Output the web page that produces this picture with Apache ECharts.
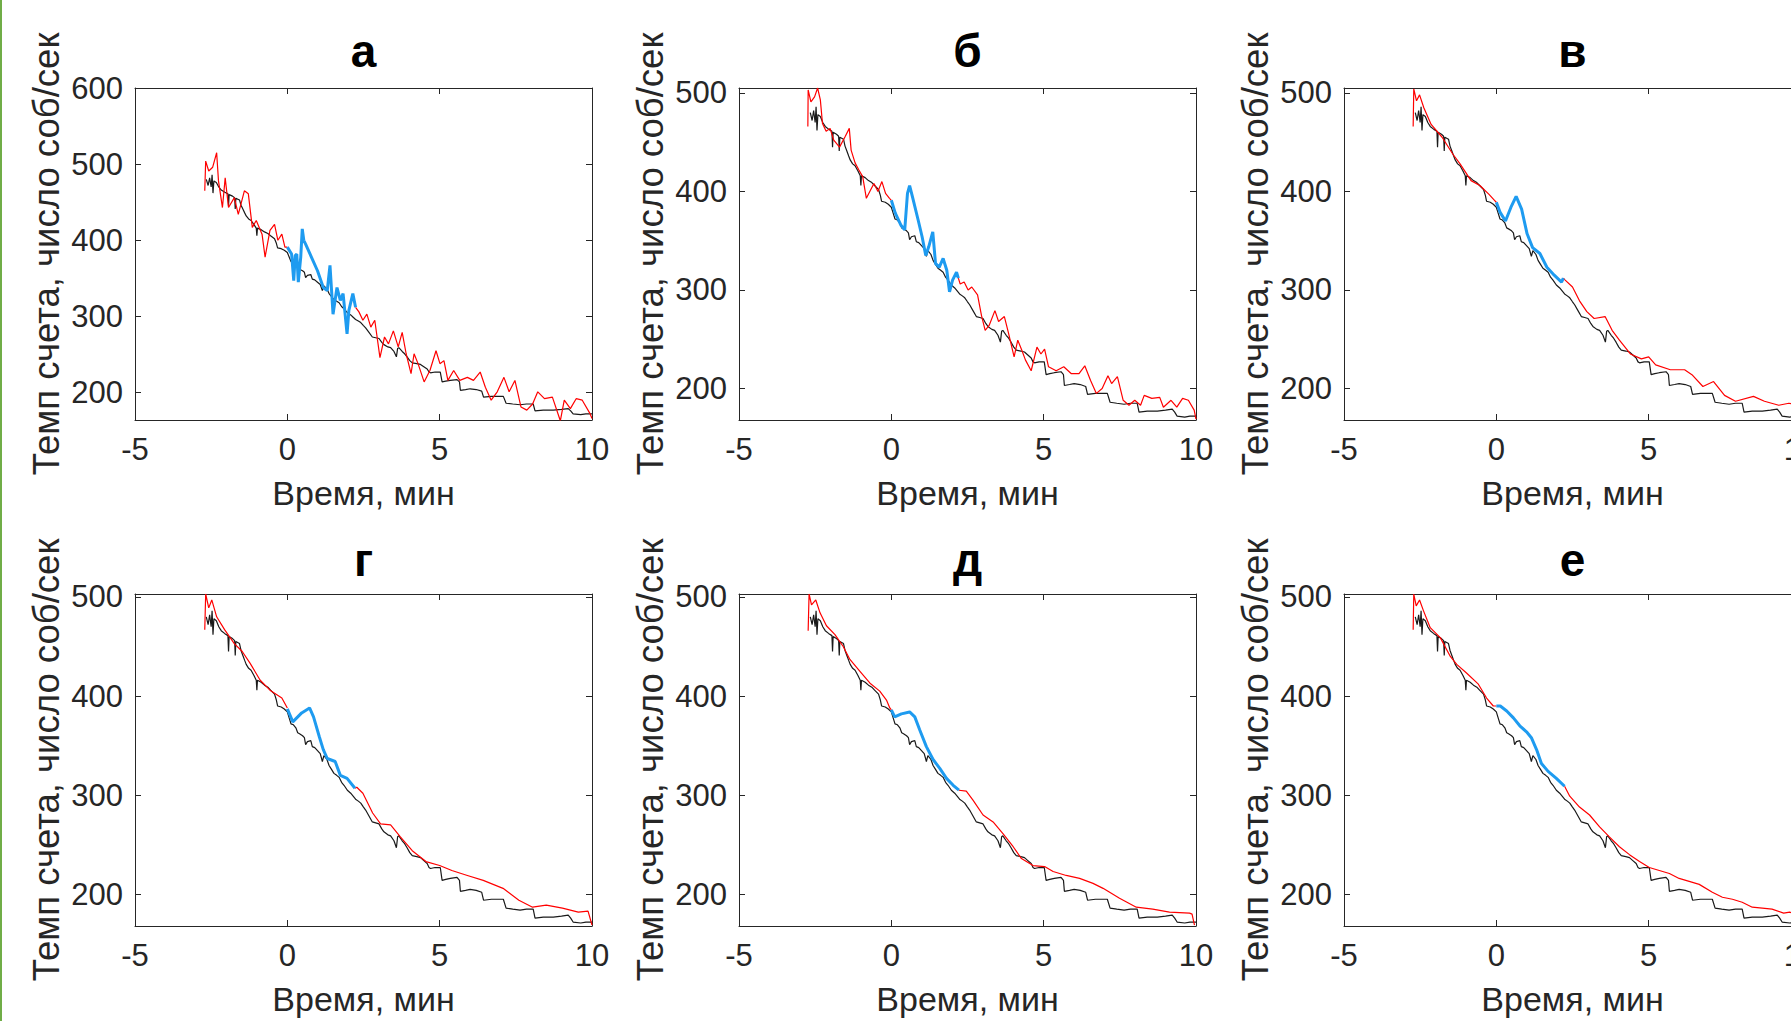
<!DOCTYPE html>
<html>
<head>
<meta charset="utf-8">
<script src="https://cdn.jsdelivr.net/npm/echarts@6/dist/echarts.min.js"></script>
<style>
  html, body { margin: 0; padding: 0; background: #fff; overflow: hidden; }
  #main { width: 1840px; height: 1021px; }
</style>
</head>
<body>
<div id="main"></div>
<script>
// panel titles and ticks
var titles = ['а', 'б', 'в', 'г', 'д', 'е'];
var xTicks = [-5, 0, 5, 10];
var yTicksA = [200, 300, 400, 500, 600];
var yTicks = [200, 300, 400, 500];
var yRanges = [[164, 600], [168, 505], [168, 505], [168, 503], [168, 503], [168, 503]];

// black curve (same in every panel), [time, rate]
var black = [[-2.66,480],[-2.6,472],[-2.55,482],[-2.5,470],[-2.47,486],[-2.44,462],[-2.41,478],[-2.33,476],[-2.25,470],[-2.17,466],[-2.05,463],[-1.95,461],[-1.93,445],[-1.91,460],[-1.8,458],[-1.73,456],[-1.71,441],[-1.69,455],[-1.57,453],[-1.52,446],[-1.46,441],[-1.4,436],[-1.35,432],[-1.27,428],[-1.19,426],[-1.1,421],[-1.02,416],[-1.0,406],[-0.98,416],[-0.86,414],[-0.75,411],[-0.64,409],[-0.55,406],[-0.42,402],[-0.36,396],[-0.32,390],[-0.2,389],[-0.1,387],[0,384],[0.06,378],[0.12,372],[0.2,371],[0.28,368],[0.34,363],[0.4,362],[0.5,360],[0.56,358],[0.6,351],[0.66,354],[0.77,355],[0.82,349],[0.9,348],[0.99,345],[1.08,342],[1.15,334],[1.2,340],[1.3,336],[1.37,330],[1.45,326],[1.53,322],[1.62,320],[1.7,318],[1.78,313],[1.86,310],[1.97,305],[2.08,302],[2.16,299],[2.24,296],[2.33,294],[2.41,292],[2.5,288],[2.57,285],[2.68,279],[2.79,273],[2.9,272],[3.01,271],[3.1,266],[3.17,263],[3.3,260],[3.39,259],[3.5,254],[3.58,247],[3.62,258],[3.66,259],[3.77,254],[3.85,251],[3.93,247],[4.02,242],[4.1,239],[4.25,238],[4.37,237],[4.48,234],[4.59,231],[4.65,227],[4.7,226],[4.85,227],[5.02,227],[5.08,214],[5.2,215],[5.35,216],[5.57,217],[5.65,214],[5.68,203],[5.85,204],[6.0,205],[6.2,204],[6.38,202],[6.44,194],[6.7,195],[7.09,195],[7.18,186],[7.4,185],[7.64,184],[7.85,185],[8.07,185],[8.13,176],[8.4,177],[8.73,177],[9.0,178],[9.22,179],[9.3,176],[9.38,172],[9.63,171],[9.8,172],[10,172]];

// panel а
var redA1 = [[-2.71,465],[-2.68,504],[-2.58,491],[-2.45,496],[-2.32,515],[-2.26,478],[-2.13,443],[-2.04,482],[-1.93,443],[-1.74,456],[-1.61,434],[-1.41,465],[-1.28,461],[-1.15,417],[-1.02,426],[-0.83,408],[-0.73,378],[-0.57,413],[-0.42,421],[-0.31,400],[-0.18,408],[-0.08,391],[0,391]];
var blueA = [[0,391],[0.14,382],[0.21,347],[0.26,380],[0.31,382],[0.36,345],[0.44,378],[0.49,415],[0.54,400],[0.6,395],[0.79,378],[0.99,360],[1.18,338],[1.31,334],[1.4,367],[1.5,303],[1.63,338],[1.74,321],[1.83,330],[1.96,277],[2.02,308],[2.15,330],[2.24,312]];
var redA2 = [[2.24,312],[2.35,306],[2.48,295],[2.61,303],[2.74,286],[2.87,295],[3.04,246],[3.19,273],[3.32,264],[3.48,281],[3.64,260],[3.77,279],[3.9,251],[4.06,225],[4.16,251],[4.29,238],[4.49,214],[4.68,229],[4.88,255],[5.01,238],[5.14,242],[5.27,216],[5.46,229],[5.66,216],[5.91,220],[6.11,216],[6.33,227],[6.5,207],[6.69,190],[6.89,201],[7.11,220],[7.28,201],[7.47,216],[7.67,181],[7.86,177],[8.05,185],[8.22,201],[8.44,192],[8.7,194],[8.96,163],[9.09,190],[9.29,179],[9.48,192],[9.68,190],[9.94,172],[10,166]];

// panel б
var redB1 = [[-2.74,466],[-2.73,503],[-2.64,491],[-2.52,496],[-2.42,505],[-2.33,493],[-2.26,469],[-2.14,461],[-2.01,464],[-1.89,452],[-1.7,445],[-1.51,456],[-1.38,464],[-1.32,442],[-1.19,429],[-1.07,422],[-0.94,415],[-0.82,393],[-0.69,401],[-0.57,408],[-0.44,400],[-0.31,410],[-0.19,398],[-0.06,393],[0,391]];
var blueB = [[0,391],[0.13,378],[0.31,366],[0.44,361],[0.53,398],[0.6,406],[0.69,395],[0.88,371],[1.01,354],[1.13,335],[1.23,344],[1.36,359],[1.45,327],[1.57,323],[1.7,332],[1.82,320],[1.91,298],[2.01,310],[2.14,318],[2.2,312]];
var redB2 = [[2.2,312],[2.26,306],[2.39,308],[2.52,300],[2.64,303],[2.83,295],[2.96,274],[3.08,259],[3.21,264],[3.4,279],[3.52,268],[3.71,273],[3.84,257],[4.03,232],[4.15,249],[4.28,239],[4.4,229],[4.59,218],[4.78,242],[4.91,235],[5.03,240],[5.16,222],[5.41,218],[5.66,222],[5.91,215],[6.16,215],[6.35,223],[6.54,208],[6.73,195],[6.92,200],[7.11,213],[7.23,205],[7.42,212],[7.61,188],[7.8,183],[7.99,188],[8.18,183],[8.3,193],[8.55,190],[8.81,191],[8.93,181],[9.18,188],[9.37,181],[9.56,190],[9.75,188],[9.94,178],[10,169]];

// panel в
var redC1 = [[-2.73,466],[-2.71,504],[-2.62,492],[-2.52,498],[-2.38,485],[-2.14,468],[-1.78,455],[-1.43,438],[-1.19,428],[-0.83,411],[-0.54,406],[-0.24,397],[-0.06,391],[0,389]];
var blueC = [[0,389],[0.12,379],[0.3,370],[0.48,384],[0.65,395],[0.83,382],[1.01,357],[1.19,343],[1.43,337],[1.66,323],[1.9,315],[2.14,308],[2.2,312]];
var redC2 = [[2.2,312],[2.26,310],[2.5,303],[2.73,289],[2.97,278],[3.21,271],[3.57,273],[3.8,259],[4.04,249],[4.4,235],[4.76,230],[5.0,232],[5.23,224],[5.71,219],[6.18,219],[6.42,214],[6.78,202],[7.13,207],[7.49,193],[7.85,187],[8.44,192],[8.8,187],[9.27,183],[9.6,185],[10,183]];

// panel г
var redD1 = [[-2.71,467],[-2.68,503],[-2.58,489],[-2.48,497],[-2.32,480],[-2.06,467],[-1.74,453],[-1.48,445],[-1.22,433],[-0.89,416],[-0.57,406],[-0.18,398],[0,388]];
var blueD = [[0,387],[0.18,374],[0.47,383],[0.73,388],[0.86,379],[1.05,359],[1.18,346],[1.31,337],[1.57,334],[1.74,320],[1.96,317],[2.22,307]];
var redD2 = [[2.22,307],[2.28,308],[2.48,302],[2.8,282],[3.06,271],[3.39,270],[3.71,258],[4.1,244],[4.55,233],[5.0,229],[5.4,224],[5.91,219],[6.43,214],[7.08,206],[7.6,194],[8.05,187],[8.5,189],[9.03,186],[9.55,182],[9.87,183],[10,169]];

// panel д
var redE1 = [[-2.73,466],[-2.7,503],[-2.62,492],[-2.48,497],[-2.34,484],[-2.13,471],[-1.85,462],[-1.58,450],[-1.36,437],[-1.03,425],[-0.7,413],[-0.38,405],[-0.16,396],[-0.05,388],[0,386]];
var blueE = [[0,386],[0.11,379],[0.33,382],[0.6,384],[0.77,379],[0.93,366],[1.15,349],[1.37,336],[1.59,327],[1.81,317],[2.03,310],[2.22,305]];
var redE2 = [[2.22,305],[2.46,304],[2.68,295],[3.01,280],[3.34,273],[3.67,261],[4.0,248],[4.27,236],[4.65,229],[5.03,228],[5.31,223],[5.74,219],[6.18,216],[6.62,211],[6.95,206],[7.49,196],[8.04,187],[8.58,185],[9.13,182],[9.79,181],[9.87,180],[9.95,169]];

// panel е
var redF1 = [[-2.73,467],[-2.71,503],[-2.63,491],[-2.52,497],[-2.39,486],[-2.17,469],[-1.84,459],[-1.51,440],[-1.3,432],[-0.97,423],[-0.59,412],[-0.32,398],[-0.1,390],[0,390]];
var blueF = [[0,390],[0.13,390],[0.34,385],[0.56,378],[0.77,370],[0.99,364],[1.15,358],[1.32,346],[1.48,332],[1.7,324],[1.97,317],[2.24,309]];
var redF2 = [[2.24,309],[2.41,299],[2.73,288],[3.06,280],[3.39,268],[3.71,258],[4.04,248],[4.37,240],[4.7,233],[5.02,227],[5.35,224],[5.68,221],[6.0,216],[6.33,213],[6.66,210],[7.09,202],[7.42,197],[7.75,195],[8.07,192],[8.4,187],[8.73,186],[9.05,185],[9.43,181],[9.63,182],[10,178]];

var panels = [
  [redA1, blueA, redA2], [redB1, blueB, redB2], [redC1, blueC, redC2],
  [redD1, blueD, redD2], [redE1, blueE, redE2], [redF1, blueF, redF2]
];

var FONT = '"Liberation Sans", Arial, sans-serif';
var AX = '#262626';
var colLeft = [135, 739, 1344];
var rowTop = [88, 594];
var W = 457, H = 332;

var grids = [], xAxes = [], yAxes = [], series = [], graphics = [];
var xTop = [], yRight = [];

for (var i = 0; i < 6; i++) {
  var c = i % 3, r = Math.floor(i / 3);
  var yt = i === 0 ? yTicksA : yTicks;
  grids.push({left: colLeft[c], top: rowTop[r], width: W, height: H});

  xAxes.push({
    gridIndex: i, type: 'value', min: -5, max: 10, position: 'bottom',
    name: 'Время, мин', nameLocation: 'middle', nameGap: 56,
    nameTextStyle: {fontSize: 34, color: AX, fontFamily: FONT},
    axisLine: {show: true, onZero: false, lineStyle: {color: AX, width: 1}},
    axisTick: {show: true, inside: true, length: 6, customValues: xTicks, lineStyle: {color: AX}},
    axisLabel: {customValues: xTicks, fontSize: 31, color: AX, margin: 14, fontFamily: FONT},
    splitLine: {show: false}
  });
  xTop.push({
    gridIndex: i, type: 'value', min: -5, max: 10, position: 'top',
    axisLine: {show: true, onZero: false, lineStyle: {color: AX, width: 1}},
    axisTick: {show: true, inside: true, length: 6, customValues: xTicks, lineStyle: {color: AX}},
    axisLabel: {show: false}, splitLine: {show: false}
  });
  yAxes.push({
    gridIndex: i, type: 'value', min: yRanges[i][0], max: yRanges[i][1], position: 'left',
    name: 'Темп счета, число соб/сек', nameLocation: 'middle', nameGap: 70,
    nameTextStyle: {fontSize: 36.5, color: AX, fontFamily: FONT},
    axisLine: {show: true, onZero: false, lineStyle: {color: AX, width: 1}},
    axisTick: {show: true, inside: true, length: 6, customValues: yt, lineStyle: {color: AX}},
    axisLabel: {customValues: yt, fontSize: 31, color: AX, margin: 12, fontFamily: FONT},
    splitLine: {show: false}
  });
  yRight.push({
    gridIndex: i, type: 'value', min: yRanges[i][0], max: yRanges[i][1], position: 'right',
    axisLine: {show: true, onZero: false, lineStyle: {color: AX, width: 1}},
    axisTick: {show: true, inside: true, length: 6, customValues: yt, lineStyle: {color: AX}},
    axisLabel: {show: false}, splitLine: {show: false}
  });

  var p = panels[i];
  var base = {type: 'line', xAxisIndex: i, yAxisIndex: i, showSymbol: false, symbol: 'none', silent: true};
  series.push(Object.assign({}, base, {data: black, lineStyle: {color: '#1a1a1a', width: 1.2}}));
  series.push(Object.assign({}, base, {data: p[0], lineStyle: {color: '#ff0000', width: 1.2}}));
  series.push(Object.assign({}, base, {data: p[2], lineStyle: {color: '#ff0000', width: 1.2}}));
  series.push(Object.assign({}, base, {data: p[1], lineStyle: {color: '#1e9bf0', width: 3}}));

  graphics.push({
    type: 'text', x: colLeft[c] + W / 2, y: r === 0 ? 51 : 560,
    style: {text: titles[i], fill: '#000', font: 'bold 46px ' + FONT, align: 'center', verticalAlign: 'middle'}
  });
}

graphics.push({type: 'rect', shape: {x: 0, y: 0, width: 2, height: 1021}, style: {fill: '#70ad47'}});

var myChart = echarts.init(document.getElementById('main'), null, {renderer: 'svg'});
myChart.setOption({
  animation: false,
  backgroundColor: '#fff',
  grid: grids,
  xAxis: xAxes.concat(xTop),
  yAxis: yAxes.concat(yRight),
  series: series,
  graphic: graphics
});
</script>
</body>
</html>
